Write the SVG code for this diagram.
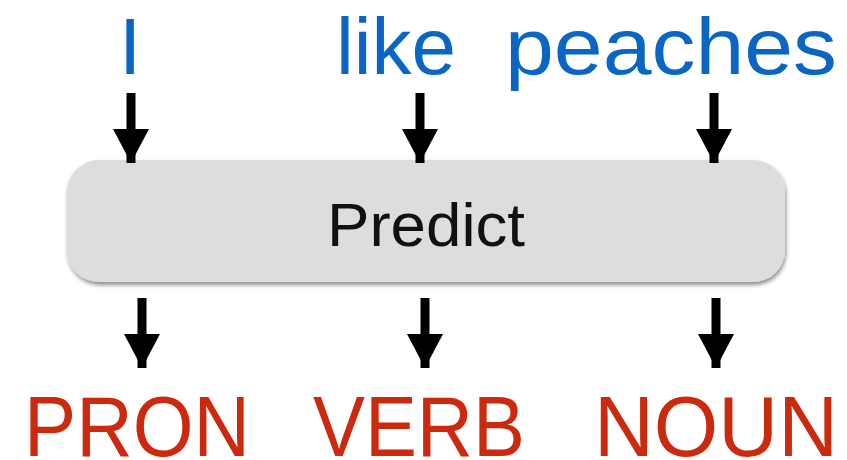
<svg xmlns="http://www.w3.org/2000/svg" width="847" height="460" viewBox="0 0 847 460">
<defs>
<filter id="sh" x="-5%" y="-20%" width="110%" height="150%">
<feGaussianBlur in="SourceAlpha" stdDeviation="2"/>
<feOffset dx="1" dy="3"/>
<feComponentTransfer><feFuncA type="linear" slope="0.45"/></feComponentTransfer>
<feMerge><feMergeNode/><feMergeNode in="SourceGraphic"/></feMerge>
</filter>
<marker id="ah" markerUnits="userSpaceOnUse" markerWidth="36" markerHeight="36" refX="34" refY="18" orient="auto" viewBox="0 0 36 36">
<path d="M0,0 L34,18 L0,36 Z" fill="#000"/>
</marker>
</defs>
<style>
.in{font-family:"Liberation Sans",Arial,sans-serif;font-size:80px;fill:#0a66c2}
.out{font-family:"Liberation Sans",Arial,sans-serif;font-size:85px;fill:#cc2a0e}
.lbl{font-family:"Liberation Sans",Arial,sans-serif;font-size:62px;fill:#111}
.ar{stroke:#000;stroke-width:9;fill:none;marker-end:url(#ah)}
</style>
<g id="input-I"><text class="in" x="130" y="74" text-anchor="middle">I</text></g>
<g id="input-like"><text class="in" x="396" y="74" text-anchor="middle" textLength="120" lengthAdjust="spacingAndGlyphs">like</text></g>
<g id="input-peaches"><text class="in" x="671" y="74" text-anchor="middle" textLength="332" lengthAdjust="spacingAndGlyphs">peaches</text></g>
<g id="predict">
<rect x="67" y="160" width="718" height="122" rx="32" ry="32" fill="#dcdddf" filter="url(#sh)"/>
<text class="lbl" x="426" y="246" text-anchor="middle" textLength="198" lengthAdjust="spacingAndGlyphs">Predict</text>
</g>
<g id="output-PRON"><text class="out" x="137" y="456" text-anchor="middle" textLength="226" lengthAdjust="spacingAndGlyphs">PRON</text></g>
<g id="output-VERB"><text class="out" x="419" y="456" text-anchor="middle" textLength="212" lengthAdjust="spacingAndGlyphs">VERB</text></g>
<g id="output-NOUN"><text class="out" x="716" y="456" text-anchor="middle" textLength="244" lengthAdjust="spacingAndGlyphs">NOUN</text></g>
<g id="connectors">
<line class="ar" x1="131" y1="93" x2="131" y2="163"/>
<line class="ar" x1="420" y1="93" x2="420" y2="163"/>
<line class="ar" x1="714" y1="93" x2="714" y2="163"/>
<line class="ar" x1="142" y1="298" x2="142" y2="368"/>
<line class="ar" x1="425" y1="298" x2="425" y2="368"/>
<line class="ar" x1="716" y1="298" x2="716" y2="368"/>
</g>
</svg>
